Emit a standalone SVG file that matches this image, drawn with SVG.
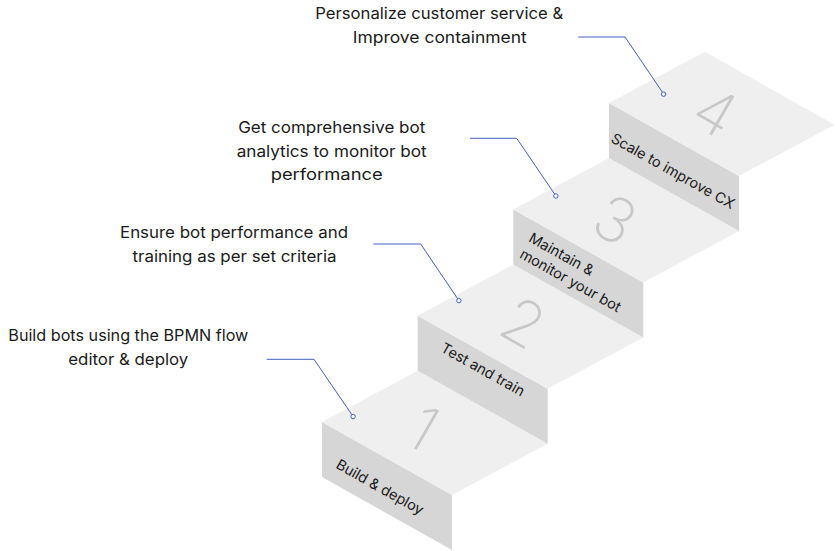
<svg xmlns="http://www.w3.org/2000/svg" width="836" height="551" viewBox="0 0 836 551">
<style>
.riser{fill:#d6d6d6}
.tread{fill:#efefef}
.digit{font-family:Inter,"Noto Sans",sans-serif;font-weight:200;font-size:62px;fill:#c8c8c8;text-anchor:middle}
.rlab{font-family:Inter,"Noto Sans",sans-serif;font-size:14.5px;fill:#1a1a1a}
.lab{font-family:Inter,"Noto Sans",sans-serif;font-size:16px;fill:#1a1a1a;text-anchor:middle}
.conn path{fill:none;stroke:#4260c2;stroke-width:1}
.conn circle{fill:#fff;stroke:#4260c2;stroke-width:1}
</style>
<rect width="836" height="551" fill="#fff"/>
<defs>
<path id="riserShape" d="M0,0 L130,73 L130,128 L0,55 Z"/>
<path id="treadShape" d="M0,0 L95.7,-51.3 L225.7,21.7 L130,73 Z"/>
</defs>
<g id="step1">
<use href="#riserShape" class="riser" transform="translate(322,422)"/>
<use href="#treadShape" class="tread" transform="translate(322,422)"/>
<text class="digit" transform="translate(423,428) rotate(30)" y="22">1</text>
<text class="rlab" text-anchor="middle" transform="translate(380,487) rotate(29.3)" dy="0.35em">Build &amp; deploy</text>
</g>
<g id="step2">
<use href="#riserShape" class="riser" transform="translate(417.7,315.7)"/>
<use href="#treadShape" class="tread" transform="translate(417.7,315.7)"/>
<text class="digit" transform="translate(523,323) rotate(30)" y="22">2</text>
<text class="rlab" text-anchor="middle" transform="translate(483,369.5) rotate(29.3)" dy="0.35em">Test and train</text>
</g>
<g id="step3">
<use href="#riserShape" class="riser" transform="translate(513.3,209.4)"/>
<use href="#treadShape" class="tread" transform="translate(513.3,209.4)"/>
<text class="digit" transform="translate(615,220) rotate(30)" y="22">3</text>
<text class="rlab" transform="translate(527.7,241) rotate(29.3)"><tspan x="0" y="0">Maintain &amp;</tspan><tspan x="0" y="18.5">monitor your bot</tspan></text>
</g>
<g id="step4">
<use href="#riserShape" class="riser" transform="translate(609,103)"/>
<use href="#treadShape" class="tread" transform="translate(609,103)"/>
<text class="digit" transform="translate(715,112) rotate(30)" y="22">4</text>
<text class="rlab" text-anchor="middle" transform="translate(673,171) rotate(29.3)" dy="0.35em">Scale to improve CX</text>
</g>
<g id="label1"><text class="lab" x="128.3" y="341.3" textLength="240" lengthAdjust="spacingAndGlyphs">Build bots using the BPMN flow</text><text class="lab" x="128.3" y="364.8" textLength="120" lengthAdjust="spacingAndGlyphs">editor &amp; deploy</text></g>
<g id="label2"><text class="lab" x="234" y="238.3" textLength="228" lengthAdjust="spacingAndGlyphs">Ensure bot performance and</text><text class="lab" x="234.5" y="261.7" textLength="204" lengthAdjust="spacingAndGlyphs">training as per set criteria</text></g>
<g id="label3"><text class="lab" x="331.7" y="133.3" textLength="187" lengthAdjust="spacingAndGlyphs">Get comprehensive bot</text><text class="lab" x="331.7" y="156.7" textLength="190" lengthAdjust="spacingAndGlyphs">analytics to monitor bot</text><text class="lab" x="326.7" y="180" textLength="112" lengthAdjust="spacingAndGlyphs">performance</text></g>
<g id="label4"><text class="lab" x="439.2" y="19.3" textLength="248" lengthAdjust="spacingAndGlyphs">Personalize customer service &amp;</text><text class="lab" x="439.8" y="42.5" textLength="174" lengthAdjust="spacingAndGlyphs">Improve containment</text></g>
<g id="connectors" class="conn">
<path d="M266.7,359.3 H314 L351.8,414.6"/><circle cx="353.1" cy="416.6" r="2.2"/>
<path d="M373.3,244 H420.7 L457.6,298.7"/><circle cx="458.9" cy="300.7" r="2.2"/>
<path d="M470,138.3 H516.7 L554.6,194"/><circle cx="555.9" cy="196" r="2.2"/>
<path d="M578.3,37 H625 L662.4,92.2"/><circle cx="663.6" cy="94.2" r="2.2"/>
</g>
</svg>
